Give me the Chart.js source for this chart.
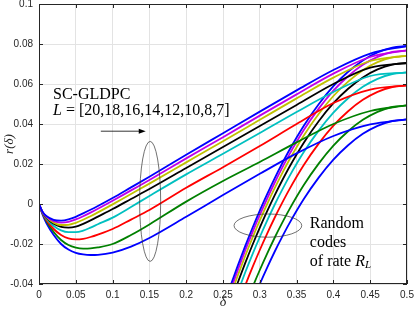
<!DOCTYPE html>
<html>
<head>
<meta charset="utf-8">
<script src="https://cdn.jsdelivr.net/npm/chart.js@4"></script>
<style>
  body { margin: 0; background: #fff; }
  #chart { display: block; }
</style>
</head>
<body>
<canvas id="chart" width="415" height="312"></canvas>
<script>
// coupling lengths L, top curve first, and the colour of each pair of curves
const chainLengths = [20, 18, 16, 14, 12, 10, 8, 7];
const lineColors = ["#0000ff", "#c000e8", "#c0c000", "#000000", "#00c0c0", "#ff0000", "#008000", "#0000ff"];

// SC-GLDPC growth rate r(delta)
const deltaSC = [0, 0.005, 0.01, 0.02, 0.03, 0.04, 0.05, 0.06, 0.07, 0.08, 0.1, 0.125, 0.15, 0.2, 0.25, 0.3, 0.35, 0.4, 0.45, 0.5];
const scL20 = [0, -0.0040, -0.0060, -0.0079, -0.0083, -0.0077, -0.0064, -0.0047, -0.0029, -0.0010, 0.0030, 0.0083, 0.0136, 0.0246, 0.0354, 0.0462, 0.0568, 0.0670, 0.0752, 0.0790];
const scL18 = [0, -0.0041, -0.0063, -0.0086, -0.0093, -0.0089, -0.0077, -0.0061, -0.0043, -0.0024, 0.0016, 0.0068, 0.0120, 0.0228, 0.0334, 0.0442, 0.0548, 0.0652, 0.0735, 0.0768];
const scL16 = [0, -0.0042, -0.0065, -0.0093, -0.0105, -0.0104, -0.0094, -0.0079, -0.0061, -0.0042, -0.0002, 0.0050, 0.0102, 0.0208, 0.0314, 0.0421, 0.0528, 0.0632, 0.0715, 0.0741];
const scL14 = [0, -0.0043, -0.0068, -0.0099, -0.0114, -0.0118, -0.0113, -0.0099, -0.0082, -0.0063, -0.0025, 0.0025, 0.0075, 0.0180, 0.0285, 0.0390, 0.0495, 0.0600, 0.0682, 0.0705];
const scL12 = [0, -0.0045, -0.0073, -0.0110, -0.0132, -0.0141, -0.0141, -0.0133, -0.0118, -0.0101, -0.0068, -0.0015, 0.0040, 0.0148, 0.0251, 0.0355, 0.0460, 0.0560, 0.0640, 0.0658];
const scL10 = [0, -0.0048, -0.0080, -0.0125, -0.0155, -0.0172, -0.0177, -0.0174, -0.0165, -0.0153, -0.0125, -0.0078, -0.0030, 0.0081, 0.0184, 0.0290, 0.0400, 0.0505, 0.0572, 0.0593];
const scL8 = [0, -0.0050, -0.0085, -0.0140, -0.0180, -0.0205, -0.0218, -0.0223, -0.0222, -0.0217, -0.0200, -0.0155, -0.0102, 0.0012, 0.0115, 0.0210, 0.0308, 0.0400, 0.0465, 0.0493];
const scL7 = [0, -0.0055, -0.0095, -0.0155, -0.0200, -0.0228, -0.0244, -0.0252, -0.0255, -0.0254, -0.0243, -0.0213, -0.0170, -0.0064, 0.0045, 0.0151, 0.0253, 0.0340, 0.0398, 0.0423];

// random codes of rate R_L
const deltaRandom = [0.25, 0.26, 0.27, 0.28, 0.29, 0.30, 0.31, 0.32, 0.33, 0.34, 0.36, 0.38, 0.40, 0.42, 0.44, 0.46, 0.48, 0.50];
const randL20 = [-0.0518, -0.0411, -0.0309, -0.0212, -0.0120, -0.0033, 0.0049, 0.0127, 0.0200, 0.0269, 0.0393, 0.0499, 0.0589, 0.0661, 0.0718, 0.0758, 0.0782, 0.0790];
const randL18 = [-0.0540, -0.0433, -0.0331, -0.0234, -0.0142, -0.0055, 0.0027, 0.0105, 0.0178, 0.0247, 0.0371, 0.0477, 0.0567, 0.0639, 0.0696, 0.0736, 0.0760, 0.0768];
const randL16 = [-0.0567, -0.0460, -0.0358, -0.0261, -0.0169, -0.0082, 0.0000, 0.0078, 0.0151, 0.0220, 0.0344, 0.0450, 0.0540, 0.0612, 0.0669, 0.0709, 0.0733, 0.0741];
const randL14 = [-0.0603, -0.0496, -0.0394, -0.0297, -0.0205, -0.0118, -0.0036, 0.0042, 0.0115, 0.0184, 0.0308, 0.0414, 0.0504, 0.0576, 0.0633, 0.0673, 0.0697, 0.0705];
const randL12 = [-0.0650, -0.0543, -0.0441, -0.0344, -0.0252, -0.0165, -0.0083, -0.0005, 0.0068, 0.0137, 0.0261, 0.0367, 0.0457, 0.0529, 0.0586, 0.0626, 0.0650, 0.0658];
const randL10 = [-0.0715, -0.0608, -0.0506, -0.0409, -0.0317, -0.0230, -0.0148, -0.0070, 0.0003, 0.0072, 0.0196, 0.0302, 0.0392, 0.0464, 0.0521, 0.0561, 0.0585, 0.0593];
const randL8 = [-0.0815, -0.0708, -0.0606, -0.0509, -0.0417, -0.0330, -0.0248, -0.0170, -0.0097, -0.0028, 0.0096, 0.0202, 0.0292, 0.0364, 0.0421, 0.0461, 0.0485, 0.0493];
const randL7 = [-0.0885, -0.0778, -0.0676, -0.0579, -0.0487, -0.0400, -0.0318, -0.0240, -0.0167, -0.0098, 0.0026, 0.0132, 0.0222, 0.0294, 0.0351, 0.0391, 0.0415, 0.0423];

const xTicks = [0, 0.05, 0.1, 0.15, 0.2, 0.25, 0.3, 0.35, 0.4, 0.45, 0.5];
const yTicks = [-0.04, -0.02, 0, 0.02, 0.04, 0.06, 0.08, 0.1];

const scSeries = [scL20, scL18, scL16, scL14, scL12, scL10, scL8, scL7];
const randSeries = [randL20, randL18, randL16, randL14, randL12, randL10, randL8, randL7];

const AXIS_COLOR = "#262626";
const SERIF = "'Liberation Serif', 'Times New Roman', serif";

function toPoints(xs, ys) {
  return ys.map((v, i) => ({ x: xs[i], y: v }));
}

const datasets = [];
scSeries.forEach((ys, i) => {
  datasets.push({
    label: "SC-GLDPC L=" + chainLengths[i],
    data: toPoints(deltaSC, ys),
    borderColor: lineColors[i],
    borderWidth: 1.8,
    pointRadius: 0,
    cubicInterpolationMode: "monotone",
    fill: false
  });
});
randSeries.forEach((ys, i) => {
  datasets.push({
    label: "Random R_L, L=" + chainLengths[i],
    data: toPoints(deltaRandom, ys),
    borderColor: lineColors[i],
    borderWidth: 1.8,
    pointRadius: 0,
    cubicInterpolationMode: "monotone",
    fill: false
  });
});

// draw a run of text pieces with their own font, left to right
function drawRuns(ctx, x, y, runs) {
  runs.forEach(run => {
    ctx.font = run.font;
    ctx.fillText(run.text, x, y + (run.dy || 0));
    x += ctx.measureText(run.text).width;
  });
}

// axes box, inward ticks and the text/arrow/ellipse notes
const annotations = {
  id: "annotations",
  afterDatasetsDraw(chart) {
    const { ctx, chartArea: a, scales: { x, y } } = chart;
    const px = d => x.getPixelForValue(d);
    const py = r => y.getPixelForValue(r);
    ctx.save();

    ctx.strokeStyle = AXIS_COLOR;
    ctx.lineWidth = 1;
    ctx.strokeRect(a.left + 0.5, a.top + 0.5, a.right - a.left - 1, a.bottom - a.top - 1);
    ctx.beginPath();
    xTicks.forEach(t => {
      const xx = Math.round(px(t)) + 0.5;
      ctx.moveTo(xx, a.bottom); ctx.lineTo(xx, a.bottom - 4);
      ctx.moveTo(xx, a.top); ctx.lineTo(xx, a.top + 4);
    });
    yTicks.forEach(t => {
      const yy = Math.round(py(t)) + 0.5;
      ctx.moveTo(a.left, yy); ctx.lineTo(a.left + 4, yy);
      ctx.moveTo(a.right, yy); ctx.lineTo(a.right - 4, yy);
    });
    ctx.stroke();

    ctx.fillStyle = "#000";
    ctx.textBaseline = "middle";
    ctx.textAlign = "left";
    drawRuns(ctx, px(0.019), py(0.0548), [{ text: "SC-GLDPC", font: "16px " + SERIF }]);
    drawRuns(ctx, px(0.019), py(0.0468), [
      { text: "L", font: "italic 16px " + SERIF },
      { text: " = [" + chainLengths.join(",") + "]", font: "16px " + SERIF }
    ]);
    drawRuns(ctx, px(0.368), py(-0.0098), [{ text: "Random", font: "16px " + SERIF }]);
    drawRuns(ctx, px(0.368), py(-0.0196), [{ text: "codes", font: "16px " + SERIF }]);
    drawRuns(ctx, px(0.368), py(-0.0288), [
      { text: "of rate ", font: "16px " + SERIF },
      { text: "R", font: "italic 16px " + SERIF },
      { text: "L", font: "italic 11px " + SERIF, dy: 4 }
    ]);

    // arrow
    const ax0 = px(0.084), ax1 = px(0.145), ay = py(0.0364);
    ctx.strokeStyle = "#000";
    ctx.lineWidth = 0.8;
    ctx.beginPath();
    ctx.moveTo(ax0, ay); ctx.lineTo(ax1 - 5, ay);
    ctx.stroke();
    ctx.beginPath();
    ctx.moveTo(ax1, ay); ctx.lineTo(ax1 - 7, ay - 2.5); ctx.lineTo(ax1 - 7, ay + 2.5);
    ctx.closePath();
    ctx.fill();

    // ellipses
    ctx.strokeStyle = "#333";
    ctx.lineWidth = 0.7;
    ctx.beginPath();
    ctx.ellipse(px(0.151), py(0.0013), px(0.151) - px(0.1367), py(-0.0287) - py(0.0013), 0, 0, Math.PI * 2);
    ctx.stroke();
    ctx.beginPath();
    ctx.ellipse(px(0.311), py(-0.0108), px(0.357) - px(0.311), py(-0.0166) - py(-0.0108), 0, 0, Math.PI * 2);
    ctx.stroke();

    ctx.restore();
  }
};

new Chart(document.getElementById("chart"), {
  type: "line",
  data: { datasets },
  plugins: [annotations],
  options: {
    responsive: false,
    animation: false,
    layout: { padding: { top: 4, right: 8, left: 0, bottom: 0 } },
    plugins: { legend: { display: false }, tooltip: { enabled: false } },
    scales: {
      x: {
        type: "linear",
        min: 0,
        max: 0.5,
        afterBuildTicks: s => { s.ticks = xTicks.map(v => ({ value: v })); },
        afterFit: s => { s.height = 28; s.paddingLeft = 0; s.paddingRight = 0; },
        grid: { color: "#e3e3e3", drawTicks: false },
        border: { display: false },
        ticks: {
          padding: 5,
          color: AXIS_COLOR,
          font: { family: "'Liberation Sans', Arial, sans-serif", size: 10 },
          maxRotation: 0,
          callback: v => String(v)
        },
        title: {
          display: true,
          text: "δ",
          color: AXIS_COLOR,
          font: { family: SERIF, size: 14, style: "italic" },
          padding: { top: 0, bottom: 1 }
        }
      },
      y: {
        type: "linear",
        min: -0.04,
        max: 0.1,
        afterBuildTicks: s => { s.ticks = yTicks.map(v => ({ value: v })); },
        afterFit: s => { s.width = 39; s.paddingTop = 0; s.paddingBottom = 0; },
        grid: { color: "#e3e3e3", drawTicks: false },
        border: { display: false },
        ticks: {
          padding: 6,
          color: AXIS_COLOR,
          font: { family: "'Liberation Sans', Arial, sans-serif", size: 10 },
          callback: v => String(v)
        },
        title: {
          display: true,
          text: "r(δ)",
          color: AXIS_COLOR,
          font: { family: SERIF, size: 13, style: "italic" },
          padding: { top: 2, bottom: 0 }
        }
      }
    }
  }
});
</script>
</body>
</html>
